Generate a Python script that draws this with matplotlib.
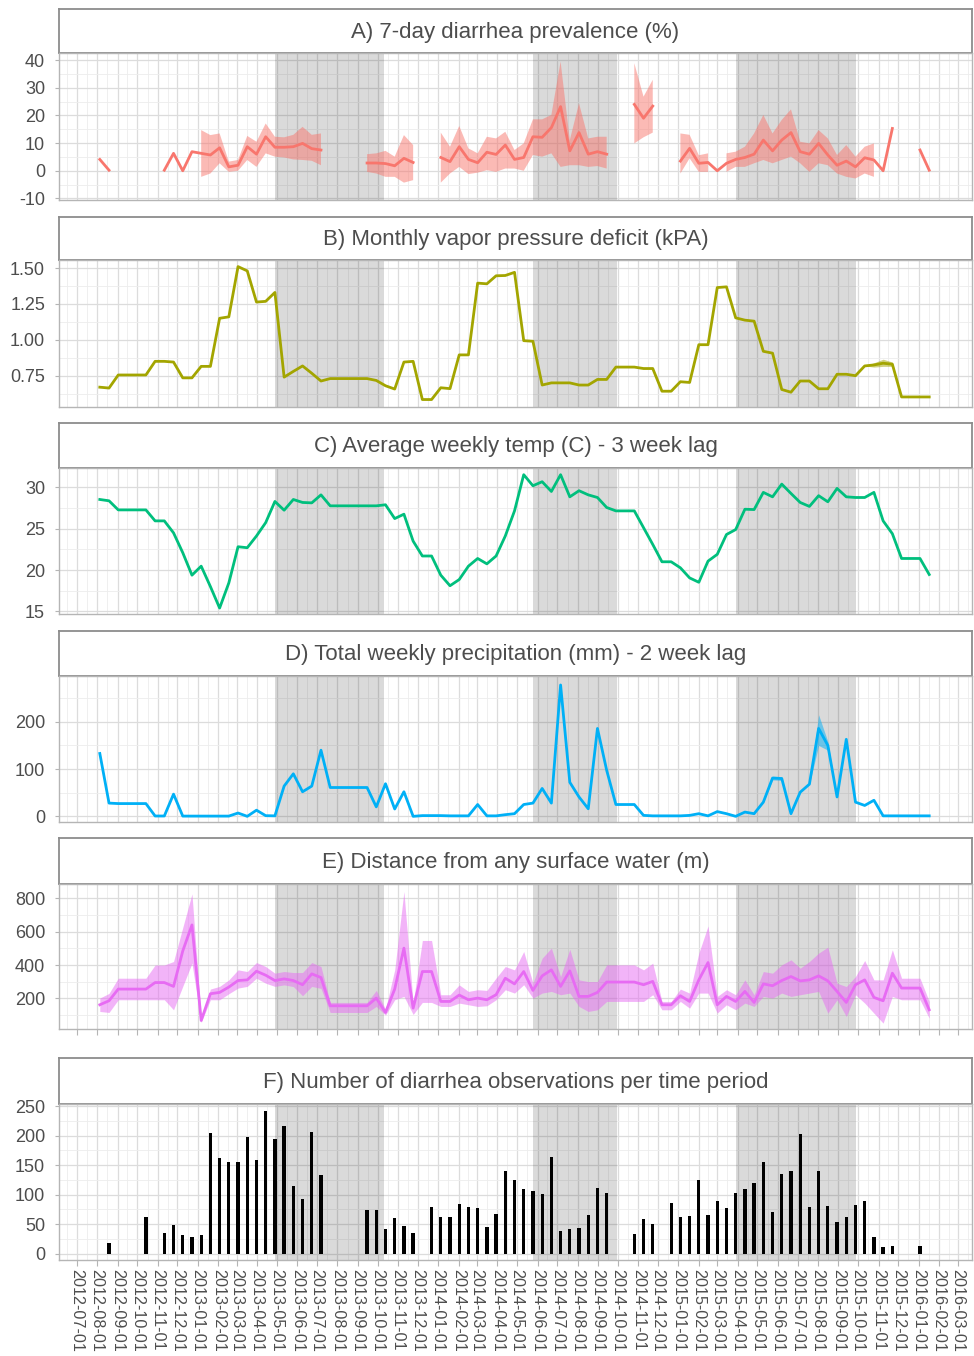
import matplotlib
matplotlib.use('Agg')
import matplotlib.pyplot as plt
import matplotlib.dates as mdates
import numpy as np
import pandas as pd

plt.rcParams['font.family'] = ['Liberation Sans', 'DejaVu Sans']
plt.rcParams['axes.unicode_minus'] = False

nan = np.nan

# biweekly periods
dates = pd.date_range('2012-08-05', periods=91, freq='14D')

# A) 7-day diarrhea prevalence (%)
prev = [4.1, 0.2, nan, nan, nan, nan, nan, 0.2, 6.3, 0.0,
        6.9, 6.3, 5.7, 8.3, 1.4, 2.0, 8.7, 6.0, 12.3, 8.5,
        8.5, 8.7, 9.9, 8.0, 7.5, nan, nan, nan, nan, 2.8,
        2.8, 2.6, 1.8, 4.5, 3.0, nan, nan, 4.8, 3.3, 8.7,
        4.1, 2.9, 6.7, 5.9, 9.3, 4.1, 4.8, 12.3, 12.1, 15.6,
        23.2, 7.2, 13.8, 6.0, 6.9, 6.0, nan, nan, 24.0, 19.0,
        23.4, nan, nan, 3.5, 8.1, 2.7, 3.0, 0.0, 2.7, 4.1,
        4.8, 6.0, 11.1, 7.2, 11.1, 13.8, 6.9, 6.0, 9.9, 5.7,
        2.0, 3.5, 1.4, 4.7, 3.9, 0.0, 15.3, nan, nan, 7.5,
        0.2]
prev_lo = [nan, nan, nan, nan, nan, nan, nan, nan, nan, nan,
           nan, -2.2, -1.0, 2.7, -0.4, 0.0, 3.9, 1.4, 6.3, 5.1,
           4.8, 4.1, 3.9, 3.6, 2.0, nan, nan, nan, nan, -0.4,
           -1.0, -2.2, -2.2, -4.3, -3.4, nan, nan, -4.3, -1.0, 1.4,
           -1.2, -0.7, 0.2, -0.4, 0.8, 0.8, 0.0, 5.7, 5.1, 6.3,
           1.4, 2.0, 2.0, 1.4, 1.7, 0.8, nan, nan, 9.9, 12.1,
           13.8, nan, nan, -1.0, 4.5, -0.4, -0.4, nan, -0.4, 1.4,
           1.4, 2.7, 3.9, 2.7, 3.9, 5.1, 2.7, -0.4, 2.7, 2.0,
           -1.0, -2.2, -2.8, -1.0, -2.2, nan, nan, nan, nan, nan,
           nan]
prev_hi = [nan, nan, nan, nan, nan, nan, nan, nan, nan, nan,
           nan, 14.7, 12.9, 13.5, 3.3, 3.9, 12.6, 10.5, 17.1, 12.3,
           12.1, 13.0, 15.9, 13.0, 13.5, nan, nan, nan, nan, 6.0,
           6.3, 7.2, 5.1, 12.9, 9.3, nan, nan, 13.8, 8.7, 16.2,
           8.1, 6.3, 12.3, 11.7, 14.1, 7.5, 9.9, 18.6, 18.6, 20.2,
           39.5, 11.1, 24.4, 11.7, 12.3, 12.3, nan, nan, 38.9, 26.8,
           32.9, nan, nan, 13.5, 13.0, 5.6, 6.3, nan, 6.3, 6.9,
           8.7, 13.5, 20.2, 13.5, 18.4, 22.2, 10.5, 9.9, 14.7, 11.7,
           5.7, 9.3, 5.1, 8.7, 9.9, nan, nan, nan, nan, nan,
           nan]

# B) Monthly vapor pressure deficit (kPA)
vpd = [0.67, 0.664, 0.755, 0.755, 0.755, 0.755, 0.85, 0.85, 0.845, 0.735,
       0.735, 0.815, 0.815, 1.15, 1.16, 1.51, 1.48, 1.263, 1.268, 1.33,
       0.74, 0.78, 0.818, 0.767, 0.713, 0.73, 0.73, 0.73, 0.73, 0.73,
       0.717, 0.68, 0.657, 0.845, 0.85, 0.584, 0.584, 0.666, 0.66, 0.895,
       0.895, 1.395, 1.39, 1.446, 1.448, 1.47, 0.994, 0.99, 0.685, 0.70,
       0.70, 0.70, 0.685, 0.685, 0.724, 0.724, 0.81, 0.81, 0.81, 0.80,
       0.80, 0.642, 0.642, 0.708, 0.703, 0.966, 0.966, 1.364, 1.369, 1.153,
       1.137, 1.13, 0.92, 0.907, 0.654, 0.635, 0.713, 0.713, 0.659, 0.659,
       0.76, 0.76, 0.75, 0.818, 0.825, 0.837, 0.83, 0.602, 0.602, 0.602,
       0.602]
vpd_band_idx = [83, 84, 85, 86, 87]
vpd_band_lo = [0.818, 0.81, 0.815, 0.815, 0.602]
vpd_band_hi = [0.818, 0.84, 0.865, 0.845, 0.602]

# C) Average weekly temp (C) - 3 week lag
temp = [28.54, 28.38, 27.28, 27.28, 27.28, 27.28, 25.95, 25.95, 24.5, 22.1,
        19.38, 20.47, 18.0, 15.4, 18.44, 22.82, 22.7, 24.12, 25.74, 28.3,
        27.24, 28.54, 28.18, 28.13, 29.1, 27.77, 27.77, 27.77, 27.77, 27.77,
        27.77, 27.9, 26.23, 26.76, 23.5, 21.7, 21.7, 19.38, 18.1, 18.85,
        20.47, 21.4, 20.75, 21.7, 24.12, 27.16, 31.54, 30.2, 30.69, 29.51,
        31.54, 28.86, 29.6, 29.1, 28.78, 27.57, 27.16, 27.16, 27.16, 25.13,
        23.1, 21.0, 21.0, 20.27, 19.05, 18.52, 21.08, 21.9, 24.3, 24.9,
        27.36, 27.32, 29.4, 28.86, 30.4, 29.27, 28.18, 27.7, 29.0, 28.26,
        29.88, 28.86, 28.78, 28.78, 29.4, 25.95, 24.4, 21.4, 21.4, 21.4,
        19.46]

# D) Total weekly precipitation (mm) - 2 week lag
precip = [133, 28, 27, 27, 27, 27, 0.7, 0.7, 47, 0.5,
          0.5, 0.5, 0.5, 0.5, 0.5, 7, 0, 13, 1.4, 1,
          64, 90, 52, 64, 140, 61, 61, 61, 61, 61,
          20, 69, 15.5, 52, 0, 1.5, 1.5, 1.5, 1, 1,
          1, 25, 1, 1, 3.5, 5.6, 25, 28, 59, 28,
          278, 72, 41, 16, 186, 97.5, 25, 25, 25, 2,
          1, 1, 1, 1, 2, 5.6, 1, 10, 5.6, 0,
          9, 5.6, 30, 81, 80, 5.6, 51, 68, 186, 150,
          41, 163, 30, 23, 34, 1, 1, 1, 1, 1,
          1]
precip_band_idx = [72, 73, 74, 75, 77, 78, 79, 80]
precip_band_lo = [30, 77, 76, 5.6, 68, 150, 140, 41]
precip_band_hi = [30, 85, 84, 5.6, 68, 215, 158, 41]

# E) Distance from any surface water (m)
dist = [162, 186, 256, 256, 256, 256, 295, 295, 272, 484,
        640, 68, 228, 236, 268, 307, 311, 363, 339, 307,
        317, 307, 282, 347, 325, 156, 156, 156, 156, 156,
        202, 116, 256, 501, 142, 361, 361, 182, 182, 220,
        192, 202, 192, 222, 321, 287, 361, 248, 335, 371,
        272, 365, 212, 212, 236, 298, 298, 298, 298, 282,
        302, 162, 162, 216, 182, 311, 415, 162, 212, 182,
        242, 176, 287, 276, 307, 331, 305, 311, 335, 305,
        242, 176, 282, 311, 206, 186, 351, 262, 262, 262,
        132]
dist_lo = [122, 116, 192, 192, 192, 192, 192, 192, 132, 272,
           411, 56, 192, 192, 228, 262, 272, 321, 291, 272,
           281, 271, 216, 272, 260, 116, 116, 116, 116, 116,
           152, 100, 192, 212, 104, 176, 176, 152, 152, 172,
           162, 152, 156, 192, 252, 232, 282, 202, 232, 242,
           222, 232, 152, 122, 132, 182, 182, 182, 182, 182,
           222, 132, 132, 182, 142, 232, 232, 112, 162, 132,
           172, 152, 212, 202, 232, 212, 222, 232, 242, 112,
           192, 92, 222, 172, 112, 52, 212, 192, 192, 192,
           82]
dist_hi = [202, 230, 321, 321, 321, 321, 400, 400, 421, 624,
           826, 82, 256, 272, 311, 371, 361, 415, 391, 351,
           361, 355, 355, 415, 391, 176, 176, 176, 176, 176,
           248, 136, 371, 840, 172, 547, 547, 222, 222, 281,
           242, 252, 248, 322, 391, 371, 481, 292, 441, 501,
           331, 494, 311, 301, 301, 401, 401, 401, 401, 371,
           411, 182, 182, 256, 232, 471, 634, 212, 252, 222,
           311, 222, 361, 351, 401, 431, 381, 421, 471, 507,
           291, 271, 331, 427, 311, 311, 491, 321, 321, 321,
           182]

# F) Number of diarrhea observations per time period
counts = [0, 17.5, 0, 0, 0, 61.5, 0, 35.5, 48.5, 31,
          29, 31.6, 204, 162, 155, 155, 197, 158, 241, 194,
          217, 115, 92, 206, 134, 0, 0, 0, 0, 74,
          74, 41, 60, 47, 34.5, 0, 78.5, 62.6, 61.5, 83.5,
          78.5, 76.7, 45, 68, 140, 125, 110, 106, 101, 164,
          38, 42, 44, 66, 112, 102, 0, 0, 33, 59,
          51, 0, 85, 62, 64, 124, 66, 89, 77, 102,
          110, 120, 155, 70, 135, 140, 202, 79, 140, 81,
          54, 62, 82, 90, 28, 11, 13, 0, 0, 13,
          0]

# rainy season shading
seasons = [('2013-04-28', '2013-10-10'),
           ('2014-05-25', '2014-09-29'),
           ('2015-03-30', '2015-09-28')]

titles = ['A) 7-day diarrhea prevalence (%)',
          'B) Monthly vapor pressure deficit (kPA)',
          'C) Average weekly temp (C) - 3 week lag',
          'D) Total weekly precipitation (mm) - 2 week lag',
          'E) Distance from any surface water (m)',
          'F) Number of diarrhea observations per time period']

colors = ['#F8766D', '#A3A500', '#00BF7D', '#00B0F6', '#E76BF3', 'black']

# pixel layout: strip top, strip bottom/plot top, plot bottom
rows = [(9, 53, 199.5), (217, 260, 407), (423, 468, 614),
        (631, 676, 822), (838, 884, 1029), (1058, 1104, 1260)]
ylims = [(-10.4, 42.6), (0.532, 1.556), (14.68, 32.35),
         (-12, 297), (17, 885), (-10.7, 253.4)]
yticks = [[-10, 0, 10, 20, 30, 40], [0.75, 1.0, 1.25, 1.5], [15, 20, 25, 30],
          [0, 100, 200], [200, 400, 600, 800], [0, 50, 100, 150, 200, 250]]
ylabels = [None, ['0.75', '1.00', '1.25', '1.50'], None, None, None, None]

W, H = 974, 1356
X0, X1 = 59, 972


def box(x0, y0, x1, y1):
    return [x0 / W, 1 - y1 / H, (x1 - x0) / W, (y1 - y0) / H]


fig = plt.figure(figsize=(W / 100, H / 100), dpi=100)

months = pd.date_range('2012-06-01', '2016-04-01', freq='MS')
mids = months[:-1] + (months[1:] - months[:-1]) / 2
xlim = (pd.Timestamp('2012-06-04'), pd.Timestamp('2016-03-22'))

axes = []
for k in range(6):
    st, pt, pb = rows[k]
    sax = fig.add_axes(box(X0, st, X1, pt))
    sax.set_xticks([])
    sax.set_yticks([])
    for s in sax.spines.values():
        s.set_color('#8c8c8c')
        s.set_linewidth(1.3)
    sax.text(0.5, 0.47, titles[k], ha='center', va='center', fontsize=16,
             color='#4d4d4d', transform=sax.transAxes)

    ax = fig.add_axes(box(X0, pt, X1, pb))
    ax.set_xlim(xlim)
    ax.set_ylim(ylims[k])
    ax.set_xticks(months[1:-1])
    ax.set_xticks(mids, minor=True)
    yt = yticks[k]
    step = yt[1] - yt[0]
    ymin = [yt[0] - step / 2] + [v + step / 2 for v in yt]
    ymin = [v for v in ymin if ylims[k][0] < v < ylims[k][1]]
    ax.set_yticks(yt)
    ax.set_yticks(ymin, minor=True)
    if ylabels[k]:
        ax.set_yticklabels(ylabels[k])
    ax.grid(True, which='major', color='#dcdcdc', lw=0.9)
    ax.grid(True, which='minor', color='#ededed', lw=0.6)
    ax.set_axisbelow(True)
    for s in ax.spines.values():
        s.set_color('#b5b5b5')
        s.set_linewidth(1.0)
    ax.tick_params(axis='y', which='major', length=3, color='#b5b5b5',
                   labelsize=13, labelcolor='#4d4d4d', pad=7)
    ax.tick_params(which='minor', length=0)
    ax.tick_params(axis='x', which='major', length=0, labelbottom=False)
    for a, b in seasons:
        ax.axvspan(pd.Timestamp(a), pd.Timestamp(b), color='black',
                   alpha=0.145, lw=0, zorder=1)
    axes.append(ax)

# A
axes[0].fill_between(dates, prev_lo, prev_hi, color=colors[0], alpha=0.5,
                     lw=0, zorder=2)
axes[0].plot(dates, prev, color=colors[0], lw=2.0, zorder=3)

# B
vlo = np.array(vpd, dtype=float)
vhi = np.array(vpd, dtype=float)
vlo[vpd_band_idx] = vpd_band_lo
vhi[vpd_band_idx] = vpd_band_hi
axes[1].fill_between(dates, vlo, vhi, color=colors[1], alpha=0.5, lw=0,
                     zorder=2)
axes[1].plot(dates, vpd, color=colors[1], lw=2.0, zorder=3)

# C
axes[2].plot(dates, temp, color=colors[2], lw=2.0, zorder=3)

# D
plo = np.array(precip, dtype=float)
phi = np.array(precip, dtype=float)
plo[precip_band_idx] = precip_band_lo
phi[precip_band_idx] = precip_band_hi
axes[3].fill_between(dates, plo, phi, color=colors[3], alpha=0.5, lw=0,
                     zorder=2)
axes[3].plot(dates, precip, color=colors[3], lw=2.0, zorder=3)

# E
axes[4].fill_between(dates, dist_lo, dist_hi, color=colors[4], alpha=0.5,
                     lw=0, zorder=2)
axes[4].plot(dates, dist, color=colors[4], lw=2.0, zorder=3)
axes[4].tick_params(axis='x', which='major', length=4, color='#b5b5b5')

# F
axes[5].bar(dates, counts, width=5, color='black', lw=0, zorder=3)
axes[5].tick_params(axis='x', which='major', length=4, color='#b5b5b5',
                    labelbottom=True, labelsize=11.6, labelcolor='#4d4d4d',
                    labelrotation=270, pad=2.5)
axes[5].xaxis.set_major_formatter(mdates.DateFormatter('%Y-%m-%d'))
for lab in axes[5].get_xticklabels():
    lab.set_ha('center')
    lab.set_va('top')

fig.savefig('out.png', dpi=100)
